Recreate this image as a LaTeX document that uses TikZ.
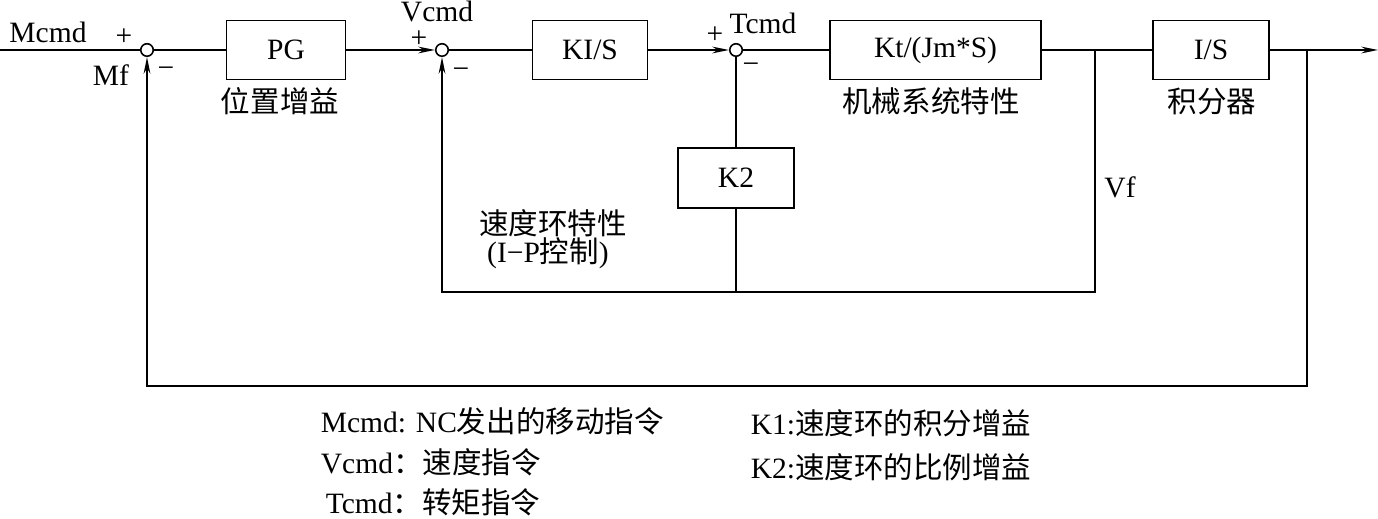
\documentclass[tikz,border=0pt]{standalone}
\usepackage{fontspec}
\setmainfont{Liberation Serif}
\newfontfamily\cjk{Noto Sans CJK SC}
\usetikzlibrary{arrows.meta}
\begin{document}
\begin{tikzpicture}[x=0.02cm,y=-0.02cm,line width=1pt,
    font=\fontsize{16.8}{20}\selectfont,
    >={Stealth[length=9.5pt,width=3.8pt]},
    blk/.style={draw,minimum width=#1,minimum height=1.18cm,inner sep=0pt},
    sumpt/.style={draw,circle,fill=white,inner sep=0pt,minimum size=0.25cm,line width=0.9pt},
    lbl/.style={inner sep=0pt},
    leg/.style={inner sep=0pt,anchor=west}]
      \useasboundingbox (0,0) rectangle (1378,519);
      \draw
        (147,50) node[sumpt] (s1){}
        (286,50) node[blk=2.38cm] (pg){PG}
        (442,50) node[sumpt] (s2){}
        (590,50) node[blk=2.3cm] (ki){KI/S}
        (736,50) node[sumpt] (s3){}
        (935.5,50) node[blk=4.22cm] (kt){Kt/(Jm*S)}
        (1211,50) node[blk=2.32cm] (is){I/S}
        (736,178) node[blk=2.32cm,minimum height=1.2cm] (k2){K2};
      \coordinate (in) at (0,50);
      \coordinate (out) at (1378,50);
      \coordinate (vf) at (1095,50);
      \coordinate (mf) at (1307,50);
      \coordinate (b1) at (442,292);
      \coordinate (b3) at (1095,292);
      \coordinate (b2) at (736,292);
      \coordinate (c1) at (147,386);
      \coordinate (c2) at (1307,386);
      \begin{scope}[-]
        \draw (in) to (s1);
        \draw (s1) to (pg);
        \draw (s2) to (ki);
        \draw (s3) to (kt);
        \draw (kt) to (is);
        \draw (s3) to (k2);
        \draw (k2) to (b2);
      \end{scope}
      \begin{scope}[->]
        \draw (pg) to (s2);
        \draw (ki) to (s3);
        \draw (is) to (out);
        \draw (vf) -- (b3) -- (b1) -- (s2);
        \draw (mf) -- (c2) -- (c1) -- (s1);
      \end{scope}
      \draw
        (48,32) node[lbl] (mcmd){Mcmd}
        (124,37) node[lbl] (p1){+}
        (111,75) node[lbl] (mfl){Mf}
        (166,72) node[lbl] (m1){−}
        (280,101) node[lbl] (pgl){\cjk 位置增益}
        (437,11) node[lbl] (vcmd){Vcmd}
        (419,39) node[lbl] (p2){+}
        (461,73) node[lbl] (m2){−}
        (763,23) node[lbl] (tcmd){Tcmd}
        (715,35) node[lbl] (p3){+}
        (751,68) node[lbl] (m3){−}
        (931,101) node[lbl] (ktl){\cjk 机械系统特性}
        (1212,101) node[lbl] (isl){\cjk 积分器}
        (1120,187) node[lbl] (vfl){Vf}
        (553,223) node[lbl] (vloop){\cjk 速度环特性}
        (548,253) node[lbl] (ip){(I−P{\cjk 控制})};
      \draw
        (320,421) node[leg] (n1){Mcmd: NC{\cjk 发出的移动指令}}
        (320,462) node[leg] (n2){Vcmd{\cjk ：速度指令}}
        (325,502) node[leg] (n3){Tcmd{\cjk ：转矩指令}}
        (750,423) node[leg] (n4){K1:{\cjk 速度环的积分增益}}
        (750,467) node[leg] (n5){K2:{\cjk 速度环的比例增益}};
    \end{tikzpicture}
\end{document}
